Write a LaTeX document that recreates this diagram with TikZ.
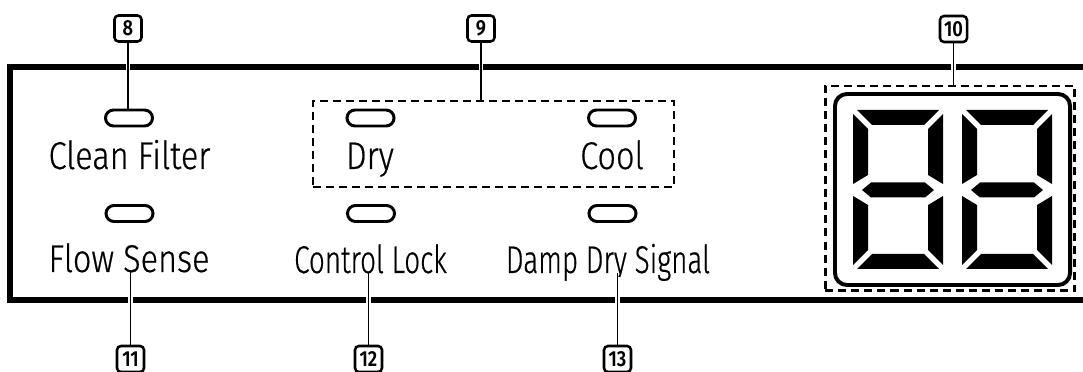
\documentclass[tikz,border=0pt]{standalone}
\usepackage{fontspec}
\setmainfont{Fira Sans}[UprightFont={* Light}, BoldFont={* SemiBold}, FakeStretch=0.84]
\newfontfamily\lblfont{Fira Sans}[UprightFont={* Light}, FakeStretch=0.84, FakeBold=0.5]
\newfontfamily\narrowfont{Fira Sans}[UprightFont={* Light}, FakeStretch=0.72, FakeBold=0.5]
\usetikzlibrary{positioning}

% one seven-segment digit, top-left corner at #1
\newcommand{\segdigit}[1]{%
  \begin{scope}[shift={#1}]
    \fill (4,0) -- (86,0) -- (71,15) -- (19,15) -- cycle;
    \fill (0,4) -- (15,19) -- (15,65) -- (0,74) -- cycle;
    \fill (90,4) -- (75,19) -- (75,65) -- (90,74) -- cycle;
    \fill (9,80) -- (18,72.5) -- (72,72.5) -- (81,80) -- (72,87.5) -- (18,87.5) -- cycle;
    \fill (0,86) -- (15,95) -- (15,140) -- (0,155) -- cycle;
    \fill (90,86) -- (75,95) -- (75,140) -- (90,155) -- cycle;
    \fill (19,144) -- (71,144) -- (86,159) -- (4,159) -- cycle;
  \end{scope}}

\begin{document}
\begin{tikzpicture}[
    x=0.025cm, y=-0.025cm,
    led/.style={draw, line width=2.1pt, rounded corners=0.2cm, minimum width=1.175cm, minimum height=0.4cm, inner sep=0pt},
    lbl/.style={anchor=base, inner sep=0pt, font=\fontsize{27.5}{30}\selectfont\lblfont},
    callout/.style={draw, line width=1.8pt, rounded corners=0.1cm, minimum width=0.675cm, minimum height=0.65cm, inner sep=0pt, font=\fontsize{15.5}{16}\selectfont\bfseries},
    grp/.style={draw, line width=1.9pt, dash pattern=on 0.2cm off 0.125cm, inner sep=0pt},
    leader/.style={line width=0.75pt, preaction={draw=white, line width=3.5pt, shorten <=3pt, shorten >=3pt}},
  ]
    \useasboundingbox (0,0) rectangle (1083,372);

    % panel
    \draw[line width=4.3pt] (1090,67) -- (10,67) -- (10,300) -- (1090,300);

    % indicators
    \node[led] (ledcf) at (129,118) {};
    \node[lbl] (cf) at (129.5,169) {Clean Filter};
    \node[led] (ledfs) at (129.5,213.5) {};
    \node[lbl] (fs) at (129,272) {Flow Sense};

    \node[grp, minimum width=9.025cm, minimum height=2.15cm] (grp9) at (493.5,144) {};
    \node[led] (leddry) at (370.5,118) {};
    \node[lbl] (dry) at (370,169) {Dry};
    \node[led] (ledcool) at (612,118) {};
    \node[lbl] (cool) at (612,169) {Cool};

    \node[led] (ledcl) at (371,213.5) {};
    \node[lbl] (cl) at (370.5,273) {\narrowfont Control Lock};
    \node[led] (leddds) at (612.5,213.5) {};
    \node[lbl] (dds) at (608,273) {\narrowfont Damp Dry Signal};

    % display
    \node[grp, minimum width=6.225cm, minimum height=5.1125cm] (grp10) at (950,188.25) {};
    \node[draw, line width=2.8pt, rounded corners=0.3cm, minimum width=5.875cm, minimum height=4.775cm] (disp) at (952.5,189.5) {};
    \segdigit{(853,110)}
    \segdigit{(962,110)}

    % callouts
    \node[callout] (c8) at (128,28.5) {8};
    \node[callout] (c9) at (481,28.5) {9};
    \node[callout] (c10) at (953.5,29) {10};
    \node[callout] (c11) at (130.5,359) {11};
    \node[callout] (c12) at (368.5,359) {12};
    \node[callout] (c13) at (617.5,359) {13};

    \draw[leader] (c8) -- (c8 |- ledcf.north);
    \draw[leader] (c9) -- (c9 |- grp9.north);
    \draw[leader] (c10) -- (c10 |- grp10.north);
    \draw[leader] (c11) -- (c11 |- fs.base);
    \draw[leader] (c12) -- (c12 |- cl.base);
    \draw[leader] (c13) -- (c13 |- dds.base);
\end{tikzpicture}
\end{document}
